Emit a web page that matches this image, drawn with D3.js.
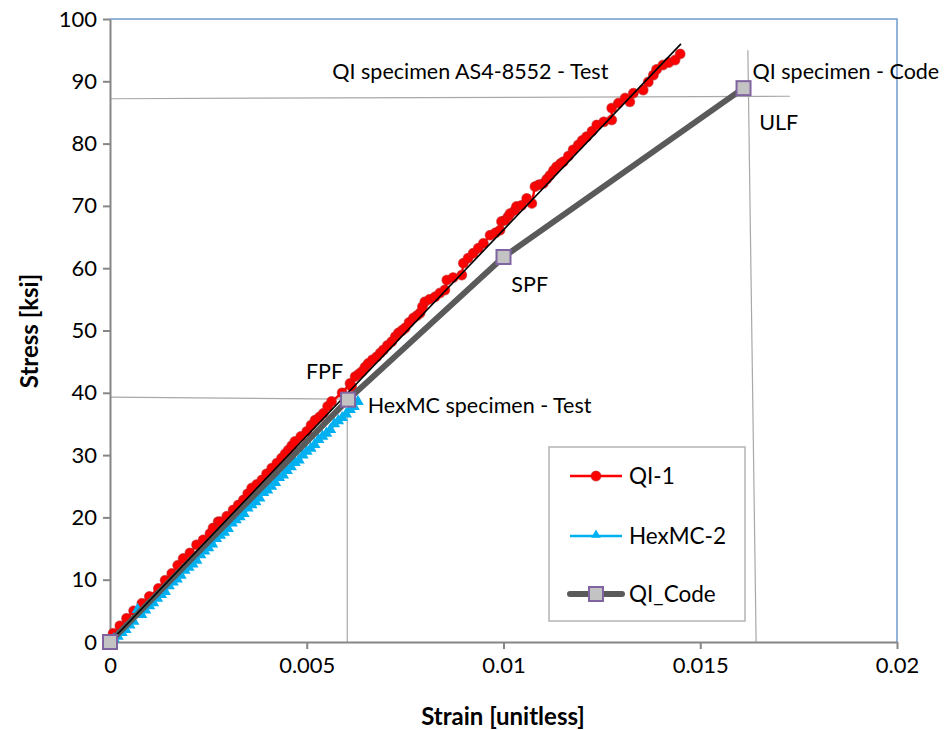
<!DOCTYPE html>
<html><head><meta charset="utf-8">
<script src="https://cdn.jsdelivr.net/npm/d3@7"></script>
<style>
body{margin:0;background:#fff;}
svg{display:block;font-family:Lato, "Open Sans", sans-serif;}
</style></head>
<body><svg id="c" width="946" height="730"></svg>
<script>
// ---------- data ----------
const xTicks = [0, 0.005, 0.01, 0.015, 0.02];
const xTickLabels = ["0", "0.005", "0.01", "0.015", "0.02"];
const yTicks = [0,10,20,30,40,50,60,70,80,90,100];
const seriesNames = ["QI-1", "HexMC-2", "QI_Code"];

// QI-1 test data [strain, stress ksi]
const qi1 = [
[0.00000,0.0],[0.00008,1.4],[0.00025,2.6],[0.00042,3.8],[0.00060,5.0],[0.00081,6.2],[0.00100,7.3],
[0.00123,8.6],[0.00140,9.9],[0.00157,11.0],[0.00172,12.3],[0.00186,13.4],[0.00203,14.3],[0.00220,15.6],
[0.00237,16.4],[0.00254,17.4],[0.00262,18.3],[0.00275,19.3],[0.00280,19.3],[0.00297,20.2],[0.00313,21.2],
[0.00326,22.0],[0.00339,22.8],[0.00350,23.8],[0.00360,24.7],[0.00373,25.3],[0.00386,26.0],[0.00398,27.0],
[0.00411,27.9],[0.00424,28.7],[0.00436,29.5],[0.00445,30.2],[0.00453,30.8],[0.00462,31.5],[0.00470,32.2],
[0.00485,33.0],[0.00500,33.8],[0.00511,34.8],[0.00521,35.6],[0.00532,36.1],[0.00542,36.7],[0.00553,37.8],
[0.00563,38.6],[0.00590,40.0],[0.00610,41.5],[0.00614,41.0],[0.00623,42.6],[0.00632,43.0],[0.00640,43.4],
[0.00648,44.1],[0.00656,44.7],[0.00667,45.3],[0.00678,45.8],[0.00687,46.4],[0.00695,46.9],[0.00705,47.6],
[0.00716,48.2],[0.00725,49.0],[0.00733,49.6],[0.00742,50.0],[0.00750,50.4],[0.00760,51.3],[0.00771,52.0],
[0.00780,52.4],[0.00788,52.8],[0.00794,53.8],[0.00800,54.6],[0.00812,55.0],[0.00826,55.4],[0.00838,56.0],
[0.00851,56.5],[0.00856,58.1],[0.00872,58.5],[0.00894,58.9],[0.00898,60.8],[0.00910,61.6],[0.00923,62.4],
[0.00936,63.2],[0.00949,64.0],[0.00966,65.3],[0.00980,65.7],[0.00991,66.1],[0.00995,67.5],[0.01004,67.7],
[0.01012,68.3],[0.01017,68.8],[0.01029,69.3],[0.01033,69.9],[0.01046,70.1],[0.01059,71.2],[0.01072,70.4],
[0.01080,73.1],[0.01090,73.4],[0.01101,73.6],[0.01110,74.3],[0.01118,74.9],[0.01127,75.7],[0.01135,76.3],
[0.01145,76.8],[0.01152,77.1],[0.01165,78.0],[0.01177,79.0],[0.01190,79.8],[0.01200,80.5],[0.01211,81.1],
[0.01225,82.0],[0.01237,83.0],[0.01255,83.5],[0.01275,83.8],[0.01275,85.7],[0.01292,86.5],[0.01309,87.3],
[0.01321,86.7],[0.01330,88.1],[0.01355,88.6],[0.01368,89.9],[0.01381,91.0],[0.01389,91.9],[0.01405,92.6],
[0.01420,93.0],[0.01436,93.4],[0.01449,94.4]
];

// HexMC-2 test data [strain, stress ksi]
const hexmc2 = [
[0.00000,0.0],[0.00010,0.5],[0.00020,0.9],[0.00030,1.5],[0.00040,2.0],[0.00050,2.7],[0.00060,3.3],
[0.00070,5.2],[0.00080,4.4],[0.00090,5.1],[0.00100,5.8],[0.00110,6.3],[0.00120,7.0],[0.00130,7.6],
[0.00140,8.1],[0.00150,9.0],[0.00160,9.6],[0.00170,10.1],[0.00180,10.7],[0.00190,11.5],[0.00200,12.0],
[0.00210,12.5],[0.00220,13.1],[0.00230,14.0],[0.00240,14.6],[0.00250,15.1],[0.00260,15.7],[0.00270,16.6],
[0.00280,17.1],[0.00290,17.6],[0.00300,18.2],[0.00310,19.1],[0.00320,19.6],[0.00330,20.1],[0.00340,20.6],
[0.00350,21.5],[0.00360,22.0],[0.00370,22.5],[0.00380,23.1],[0.00390,24.0],[0.00400,24.4],[0.00410,25.0],
[0.00420,25.6],[0.00430,26.4],[0.00440,26.8],[0.00450,27.5],[0.00460,28.1],[0.00470,28.8],[0.00480,29.2],
[0.00490,30.0],[0.00500,30.6],[0.00510,31.1],[0.00520,31.7],[0.00530,32.5],[0.00540,33.0],[0.00550,33.5],
[0.00560,34.1],[0.00570,35.0],[0.00580,35.5],[0.00590,36.0],[0.00600,36.6],[0.00610,37.3],[0.00620,37.8],
[0.00630,38.6]
];

// QI_Code prediction: origin, FPF, SPF, ULF
const qiCode = [[0,0],[0.00605,38.9],[0.0100,61.8],[0.01610,88.9]];

// linear trendline of QI-1
const trend = [[0,0],[0.01451,96.0]];

// reference guide lines
const guides = [
  [[0,87.2],[0.01728,87.6]],
  [[0.01621,95.0],[0.01642,0]],
  [[0,39.3],[0.00605,39.0]],
  [[0.00603,39.0],[0.00603,0]]
];

// annotations [strain, stress, text]
const notes = [
  [0.00565, 90.4, "QI specimen AS4-8552 - Test"],
  [0.01633, 90.4, "QI specimen - Code"],
  [0.01650, 82.2, "ULF"],
  [0.01020, 56.1, "SPF"],
  [0.00498, 42.2, "FPF"],
  [0.00655, 36.7, "HexMC specimen - Test"]
];

// ---------- drawing ----------
const svg = d3.select("#c");
const x = d3.scaleLinear().domain([0,0.02]).range([110,897]);
const y = d3.scaleLinear().domain([0,100]).range([642,19]);
const line = d3.line().x(d=>x(d[0])).y(d=>y(d[1]));

// plot-area top/right border
svg.append("path").attr("d", `M${x(0)},${y(100)}H${x(0.02)}V${y(0)}`)
  .attr("fill","none").attr("stroke","#729bd0").attr("stroke-width",1.5);

// guides
svg.selectAll(".g").data(guides).join("path").attr("d", line)
  .attr("fill","none").attr("stroke","#a8a8a8").attr("stroke-width",1.2);

// axes
const ax = svg.append("g").attr("transform",`translate(0,${y(0)})`)
  .call(d3.axisBottom(x).tickValues(xTicks).tickFormat((d,i)=>xTickLabels[i]).tickSize(7).tickSizeOuter(0).tickPadding(8));
const ay = svg.append("g").attr("transform",`translate(${x(0)},0)`)
  .call(d3.axisLeft(y).tickValues(yTicks).tickSize(7).tickSizeOuter(0).tickPadding(6));
[ax,ay].forEach(g=>{
  g.select(".domain").attr("stroke","#868686").attr("stroke-width",2);
  g.selectAll(".tick line").attr("stroke","#868686").attr("stroke-width",2);
  g.selectAll(".tick text").attr("font-size",22).attr("fill","#000").attr("font-family","Lato");
});

// QI-1
const gQ = svg.append("g");
gQ.append("path").datum(qi1).attr("d", line).attr("fill","none").attr("stroke","#ff0000").attr("stroke-width",2.4);
gQ.selectAll("circle").data(qi1).join("circle").attr("cx",d=>x(d[0])).attr("cy",d=>y(d[1])).attr("r",4.9)
  .attr("fill","#ff0000").attr("stroke","rgba(190,30,30,0.55)").attr("stroke-width",1.2);

// HexMC-2
const gH = svg.append("g");
gH.append("path").datum(hexmc2).attr("d", line).attr("fill","none").attr("stroke","#00b0f0").attr("stroke-width",3);
const tri = d3.symbol().type(d3.symbolTriangle).size(60);
gH.selectAll("path.m").data(hexmc2).join("path").attr("class","m")
  .attr("transform",d=>`translate(${x(d[0])},${y(d[1])})`).attr("d",tri).attr("fill","#00b0f0");

// QI_Code line
svg.append("path").datum(qiCode).attr("d", line).attr("fill","none").attr("stroke","#5a5a5a").attr("stroke-width",6);

// trendline
svg.append("path").datum(trend).attr("d", line).attr("fill","none").attr("stroke","#000").attr("stroke-width",1.6);

// QI_Code markers
svg.selectAll("rect.code").data(qiCode).join("rect").attr("class","code")
  .attr("x",d=>x(d[0])-7).attr("y",d=>y(d[1])-7).attr("width",14).attr("height",14)
  .attr("fill","#c3c3c3").attr("stroke","#8064a2").attr("stroke-width",2);

// annotations
svg.selectAll("text.note").data(notes).join("text").attr("class","note")
  .attr("x",d=>x(d[0])).attr("y",d=>y(d[1])).text(d=>d[2])
  .attr("font-size",21.5).attr("fill","#000");

// axis titles
svg.append("text").attr("x",503).attr("y",725).attr("text-anchor","middle")
  .attr("font-size",24).attr("font-weight","bold").text("Strain [unitless]");
svg.append("text").attr("transform","translate(38,331) rotate(-90)").attr("text-anchor","middle")
  .attr("font-size",24).attr("font-weight","bold").text("Stress [ksi]");

// legend
const lg = svg.append("g");
lg.append("rect").attr("x",549).attr("y",447).attr("width",196).attr("height",174)
  .attr("fill","#fff").attr("stroke","#b4b4b4").attr("stroke-width",1.5);
const ly = [476, 536, 594];
const lgx1 = 570, lgx2 = 622;
// QI-1
lg.append("line").attr("x1",lgx1).attr("x2",lgx2).attr("y1",ly[0]).attr("y2",ly[0]).attr("stroke","#ff0000").attr("stroke-width",2.4);
lg.append("circle").attr("cx",(lgx1+lgx2)/2).attr("cy",ly[0]).attr("r",4.9).attr("fill","#ff0000").attr("stroke","rgba(190,30,30,0.55)").attr("stroke-width",1.2);
// HexMC-2
lg.append("line").attr("x1",lgx1).attr("x2",lgx2).attr("y1",ly[1]).attr("y2",ly[1]).attr("stroke","#00b0f0").attr("stroke-width",2.4);
lg.append("path").attr("transform",`translate(${(lgx1+lgx2)/2},${ly[1]-1})`).attr("d",d3.symbol().type(d3.symbolTriangle).size(40)).attr("fill","#00b0f0");
// QI_Code
lg.append("line").attr("x1",lgx1).attr("x2",lgx2).attr("y1",ly[2]).attr("y2",ly[2]).attr("stroke","#5a5a5a").attr("stroke-width",6).attr("stroke-linecap","round");
lg.append("rect").attr("x",(lgx1+lgx2)/2-7).attr("y",ly[2]-7).attr("width",14).attr("height",14).attr("fill","#c3c3c3").attr("stroke","#8064a2").attr("stroke-width",2);
lg.selectAll("text").data(seriesNames).join("text").attr("x",629).attr("y",(d,i)=>ly[i]+8)
  .attr("font-size",22.5).text(d=>d);
</script></body></html>
